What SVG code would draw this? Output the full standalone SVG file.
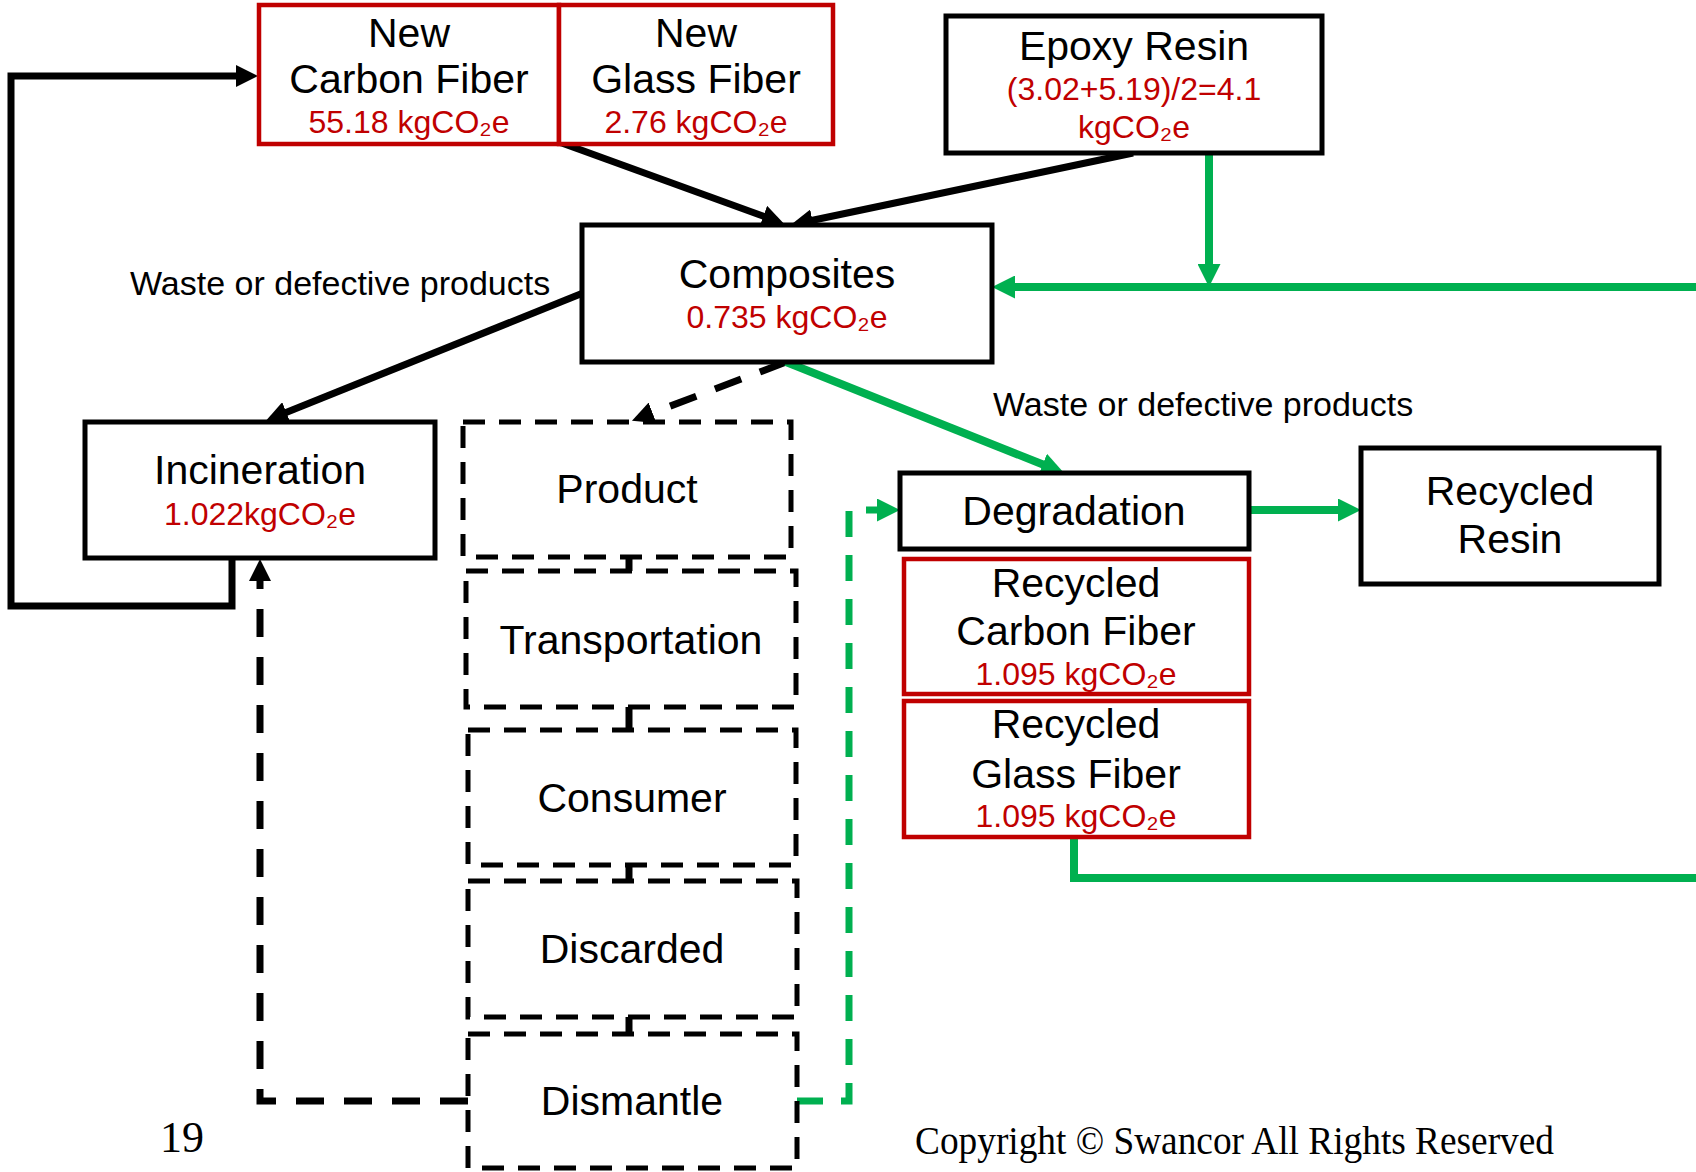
<svg xmlns="http://www.w3.org/2000/svg" width="1696" height="1172" viewBox="0 0 1696 1172">
<defs>
<style>
text{font-family:"Liberation Sans",Arial,sans-serif;text-anchor:middle;fill:#000}
.t{font-size:41px}
.r{font-size:32px;fill:#C00000}
.w{font-size:34px;text-anchor:start}
.ser{font-family:"Liberation Serif","Times New Roman",serif;text-anchor:start}
.box{fill:#fff;stroke:#000;stroke-width:5}
.rbox{fill:#fff;stroke:#C00000;stroke-width:4.5}
.dbox{fill:#fff;stroke:#000;stroke-width:5;stroke-dasharray:22 14}
.k{fill:none;stroke:#000;stroke-width:7}
.kd{fill:none;stroke:#000;stroke-width:7;stroke-dasharray:28 20}
.g{fill:none;stroke:#00B050;stroke-width:8}
.gd{fill:none;stroke:#00B050;stroke-width:7;stroke-dasharray:26 18}
</style>
<marker id="ak" viewBox="0 0 22 22" refX="1" refY="11" markerWidth="22" markerHeight="22" markerUnits="userSpaceOnUse" orient="auto">
<path d="M0,0 L22,11 L0,22 z" fill="#000"/>
</marker>
<marker id="ag" viewBox="0 0 23 23" refX="1" refY="11.5" markerWidth="23" markerHeight="23" markerUnits="userSpaceOnUse" orient="auto">
<path d="M0,0 L23,11.5 L0,23 z" fill="#00B050"/>
</marker>
</defs>
<rect width="1696" height="1172" fill="#fff"/>

<g id="connectors">
<path class="k" d="M232,558 V606 H11 V76 H237" marker-end="url(#ak)"/>
<path class="k" d="M559,142 L764.3,216.5" marker-end="url(#ak)"/>
<path class="k" d="M1133,153 L811.5,220.5" marker-end="url(#ak)"/>
<path class="k" d="M583,293 L285.4,412.8" marker-end="url(#ak)"/>
<path class="kd" d="M786,362 L651.6,413.2" marker-end="url(#ak)"/>
<path class="g" d="M786,362 L1043.6,464.8" marker-end="url(#ag)"/>
<path class="g" d="M1209,155 V265" marker-end="url(#ag)"/>
<path class="g" d="M1696,287 H1014" marker-end="url(#ag)"/>
<path class="g" d="M1249,510 H1339" marker-end="url(#ag)"/>
<path class="g" d="M1074,838 V878 H1696"/>
<path class="gd" d="M797,1101 H849 V510 H878" marker-end="url(#ag)"/>
<path class="kd" d="M468,1101 H260 V580" marker-end="url(#ak)"/>
<path class="k" d="M629,555 V573"/>
<path class="k" d="M629,705 V732"/>
<path class="k" d="M629,863 V883"/>
<path class="k" d="M629,1015 V1036"/>
</g>

<g id="new-carbon-fiber">
<rect class="rbox" x="259" y="5" width="300" height="139"/>
<text class="t" x="409" y="47">New</text>
<text class="t" x="409" y="93">Carbon Fiber</text>
<text class="r" x="409" y="133">55.18 kgCO₂e</text>
</g>
<g id="new-glass-fiber">
<rect class="rbox" x="559" y="5" width="274" height="139"/>
<text class="t" x="696" y="47">New</text>
<text class="t" x="696" y="93">Glass Fiber</text>
<text class="r" x="696" y="133">2.76 kgCO₂e</text>
</g>
<g id="epoxy-resin">
<rect class="box" x="946" y="16" width="376" height="137"/>
<text class="t" x="1134" y="60">Epoxy Resin</text>
<text class="r" x="1134" y="100">(3.02+5.19)/2=4.1</text>
<text class="r" x="1134" y="138">kgCO₂e</text>
</g>
<g id="composites">
<rect class="box" x="582" y="225" width="410" height="137"/>
<text class="t" x="787" y="288">Composites</text>
<text class="r" x="787" y="328">0.735 kgCO₂e</text>
</g>
<g id="label-waste-left">
<text class="w" x="130" y="295">Waste or defective products</text>
</g>
<g id="label-waste-right">
<text class="w" x="993" y="416">Waste or defective products</text>
</g>
<g id="incineration">
<rect class="box" x="85" y="422" width="350" height="136"/>
<text class="t" x="260" y="484">Incineration</text>
<text class="r" x="260" y="525">1.022kgCO₂e</text>
</g>
<g id="product">
<rect class="dbox" x="463" y="422" width="328" height="135"/>
<text class="t" x="627" y="503">Product</text>
</g>
<g id="transportation">
<rect class="dbox" x="466" y="571" width="330" height="136"/>
<text class="t" x="631" y="654">Transportation</text>
</g>
<g id="consumer">
<rect class="dbox" x="468" y="730" width="328" height="135"/>
<text class="t" x="632" y="812">Consumer</text>
</g>
<g id="discarded">
<rect class="dbox" x="468" y="881" width="329" height="136"/>
<text class="t" x="632" y="963">Discarded</text>
</g>
<g id="dismantle">
<rect class="dbox" x="468" y="1034" width="329" height="134"/>
<text class="t" x="632" y="1115">Dismantle</text>
</g>
<g id="degradation">
<rect class="box" x="900" y="473" width="349" height="76"/>
<text class="t" x="1074" y="525">Degradation</text>
</g>
<g id="recycled-resin">
<rect class="box" x="1361" y="448" width="298" height="136"/>
<text class="t" x="1510" y="505">Recycled</text>
<text class="t" x="1510" y="553">Resin</text>
</g>
<g id="recycled-carbon-fiber">
<rect class="rbox" x="904" y="559" width="345" height="135"/>
<text class="t" x="1076" y="597">Recycled</text>
<text class="t" x="1076" y="645">Carbon Fiber</text>
<text class="r" x="1076" y="685">1.095 kgCO₂e</text>
</g>
<g id="recycled-glass-fiber">
<rect class="rbox" x="904" y="701" width="345" height="136"/>
<text class="t" x="1076" y="738">Recycled</text>
<text class="t" x="1076" y="788">Glass Fiber</text>
<text class="r" x="1076" y="827">1.095 kgCO₂e</text>
</g>
<g id="footer">
<text class="ser" x="160" y="1152" font-size="44">19</text>
<text class="ser" x="915" y="1154" font-size="40" textLength="639" lengthAdjust="spacingAndGlyphs">Copyright © Swancor All Rights Reserved</text>
</g>
</svg>
